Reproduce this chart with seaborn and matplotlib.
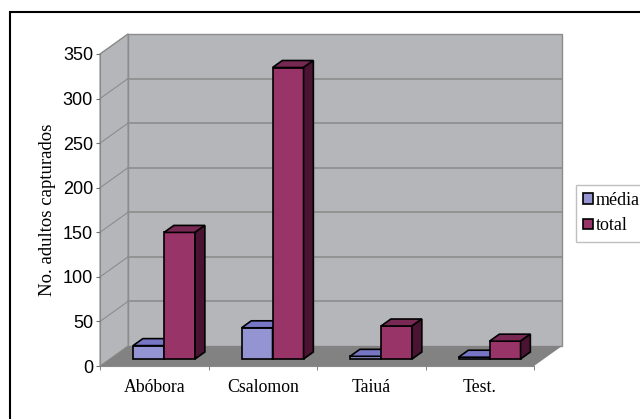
import pandas as pd
import seaborn as sns
import matplotlib.pyplot as plt
from matplotlib.patches import Polygon, Rectangle
from matplotlib.transforms import ScaledTranslation, IdentityTransform

# Data
categories = ["Abóbora", "Csalomon", "Taiuá", "Test."]
media = [15, 35, 3, 2]
total = [142, 327, 37, 20]
series_names = ["média", "total"]
y_ticks = [0, 50, 100, 150, 200, 250, 300, 350]

df = pd.DataFrame({
    "armadilha": categories * 2,
    "serie": [series_names[0]] * len(categories) + [series_names[1]] * len(categories),
    "valor": media + total,
})

# Excel-like 3D colours
front_colors = {"média": "#9494D2", "total": "#993468"}
top_colors = {"média": "#7676C4", "total": "#782953"}
side_colors = {"média": "#50509A", "total": "#4A1332"}
wall_color = "#B5B6BA"
floor_color = "#828282"
line_gray = "#8C8C8C"

DPI = 100
DX, DY = 28, 20            # wall depth in pixels
BAR_FRONT, BAR_BACK = 0.35, 0.70   # bar depth as fraction of wall depth

fig = plt.figure(figsize=(6.4, 4.19), dpi=DPI)
ax = fig.add_axes([100 / 640, 53 / 419, 434 / 640, 312 / 419])
ax.patch.set_visible(False)

sns.barplot(data=df, x="armadilha", y="valor", hue="serie", palette=front_colors,
            saturation=1, width=2 / 3.5, edgecolor="black", linewidth=1.2,
            legend=False, ax=ax)
ax.set_xlim(-0.5, len(categories) - 0.5)
ax.set_ylim(0, 350)

ident = IdentityTransform()
XL, YB = ax.transData.transform((-0.5, 0))
XR, YT = ax.transData.transform((len(categories) - 0.5, 350))

# walls and floor
ax.add_patch(Polygon([(XL + DX, YB + DY), (XR + DX, YB + DY), (XR + DX, YT + DY), (XL + DX, YT + DY)],
                     closed=True, fc=wall_color, ec=line_gray, lw=1, transform=ident, clip_on=False, zorder=0))
ax.add_patch(Polygon([(XL, YB), (XL, YT), (XL + DX, YT + DY), (XL + DX, YB + DY)],
                     closed=True, fc=wall_color, ec=line_gray, lw=0.8, transform=ident, clip_on=False, zorder=0))
for v in y_ticks[1:-1]:
    yv = ax.transData.transform((0, v))[1]
    ax.plot([XL + DX, XR + DX], [yv + DY, yv + DY], color=line_gray, lw=1.2,
            transform=ident, clip_on=False, zorder=0.5)
    ax.plot([XL, XL + DX], [yv, yv + DY], color=line_gray, lw=0.8,
            transform=ident, clip_on=False, zorder=0.5)
ax.plot([XL, XL + DX], [YT, YT + DY], color=line_gray, lw=0.8, transform=ident, clip_on=False, zorder=0.5)
ax.add_patch(Polygon([(XL, YB), (XR, YB), (XR + DX, YB + DY), (XL + DX, YB + DY)],
                     closed=True, fc=floor_color, ec="none", transform=ident, clip_on=False, zorder=0.6))

# 3D bars: shift the front faces back and add tops and sides
fx, fy = BAR_FRONT * DX, BAR_FRONT * DY
bx, by = (BAR_BACK - BAR_FRONT) * DX, (BAR_BACK - BAR_FRONT) * DY
shift = ScaledTranslation(fx / DPI, fy / DPI, fig.dpi_scale_trans)
for i, bar in enumerate(ax.patches[:len(df)]):
    s = series_names[i // len(categories)]
    z = 3 + series_names.index(s)
    (x0, y0), (x1, y1) = ax.transData.transform(
        [(bar.get_x(), 0), (bar.get_x() + bar.get_width(), bar.get_height())])
    x0, x1, y0, y1 = x0 + fx, x1 + fx, y0 + fy, y1 + fy
    bar.set_transform(ax.transData + shift)
    bar.set_clip_on(False)
    bar.set_zorder(z)
    ax.add_patch(Polygon([(x0, y1), (x1, y1), (x1 + bx, y1 + by), (x0 + bx, y1 + by)], closed=True,
                         fc=top_colors[s], ec="black", lw=1.2, transform=ident, clip_on=False, zorder=z))
    ax.add_patch(Polygon([(x1, y0), (x1, y1), (x1 + bx, y1 + by), (x1 + bx, y0 + by)], closed=True,
                         fc=side_colors[s], ec="black", lw=1.2, transform=ident, clip_on=False, zorder=z))

# axes styling
for side in ["top", "right"]:
    ax.spines[side].set_visible(False)
for side in ["left", "bottom"]:
    ax.spines[side].set_color("#8A8A8A")
    ax.spines[side].set_zorder(1)
ax.set_yticks(y_ticks)
ax.set_yticklabels([str(v) for v in y_ticks], fontfamily="Liberation Sans", fontsize=13)
ax.tick_params(axis="y", length=3, color="#707070", pad=2)
ax.set_xticks(range(len(categories)))
ax.set_xticklabels(categories, fontfamily="Liberation Serif", fontsize=12.8)
ax.set_xticks([c - 0.5 for c in range(len(categories) + 1)], minor=True)
ax.tick_params(axis="x", which="major", length=0, pad=9)
ax.tick_params(axis="x", which="minor", length=3, color="#707070")
ax.set_xlabel("")
ax.set_ylabel("No. adultos capturados", fontfamily="Liberation Serif", fontsize=13.5, labelpad=5)

# legend
handles = [Rectangle((0, 0), 1, 1, fc=front_colors[s], ec="black", lw=1.2) for s in series_names]
fig.legend(handles, series_names, loc="upper left", bbox_to_anchor=(576 / 640, 1 - 185 / 419),
           borderaxespad=0, frameon=True, fancybox=False, edgecolor="#B0B0B0",
           prop={"family": "Liberation Serif", "size": 13}, handlelength=0.55, handleheight=0.55,
           handletextpad=0.15, labelspacing=0.45, borderpad=0.4)

# outer chart frame
fig.add_artist(Rectangle((10, -20), 700, 419 - 12 + 20, transform=ident, fill=False, ec="black", lw=1.5))

fig.savefig("out.png", dpi=DPI)
